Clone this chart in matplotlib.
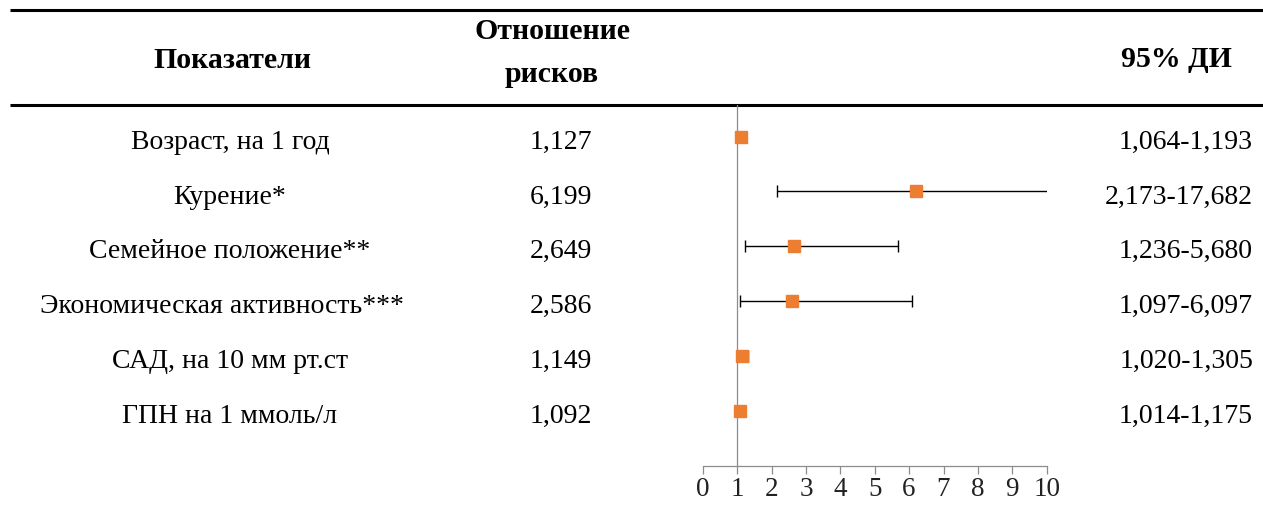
import numpy as np
import matplotlib.pyplot as plt

plt.rcParams['font.family'] = ['Liberation Serif', 'DejaVu Serif']

# Данные модели пропорциональных рисков
pokazateli = [
    "Возраст, на 1 год",
    "Курение*",
    "Семейное положение**",
    "Экономическая активность***",
    "САД, на 10 мм рт.ст",
    "ГПН на 1 ммоль/л",
]
otn_riskov = [1.127, 6.199, 2.649, 2.586, 1.149, 1.092]
di_niz = [1.064, 2.173, 1.236, 1.097, 1.020, 1.014]
di_verh = [1.193, 17.682, 5.680, 6.097, 1.305, 1.175]
osi_x = list(range(0, 11))

def zap(v):
    return f"{v:.3f}".replace(".", ",")

W, H = 1263, 508
fig = plt.figure(figsize=(W / 100, H / 100), dpi=100)

# Слой таблицы в пиксельных координатах
ax = fig.add_axes([0, 0, 1, 1])
ax.set_xlim(0, W)
ax.set_ylim(H, 0)
ax.axis("off")

FS = 20      # текст строк
FS_H = 21.5  # заголовки

ax.hlines([10, 105], 10, W, color="black", lw=2.2)
ax.text(232, 68, "Показатели", ha="center", va="baseline", fontsize=FS_H, fontweight="bold")
ax.text(552, 39, "Отношение", ha="center", va="baseline", fontsize=FS_H, fontweight="bold")
ax.text(552, 82, "рисков", ha="center", va="baseline", fontsize=FS_H, fontweight="bold")
ax.text(1232, 67, "95% ДИ", ha="right", va="baseline", fontsize=FS_H, fontweight="bold")

Y0, SHAG = 136.7, 54.8
ys = np.array([Y0 + i * SHAG for i in range(len(pokazateli))])

for i, (nazv, hr, lo, hi) in enumerate(zip(pokazateli, otn_riskov, di_niz, di_verh)):
    yb = ys[i] + 12
    if len(nazv) > 22:
        ax.text(40, yb, nazv, ha="left", va="baseline", fontsize=FS)
    else:
        ax.text(230, yb, nazv, ha="center", va="baseline", fontsize=FS)
    ax.text(530, yb, zap(hr), ha="left", va="baseline", fontsize=FS)
    ax.text(1253, yb, f"{zap(lo)}-{zap(hi)}", ha="right", va="baseline", fontsize=FS)

# Лесовой график
x0, x1 = 702.7, 1046.7
y_top, y_os = 105, 465.7
fa = fig.add_axes([x0 / W, 1 - y_os / H, (x1 - x0) / W, (y_os - y_top) / H])
fa.set_xlim(0, 10)
fa.set_ylim(y_os, y_top)
fa.patch.set_alpha(0)

hr_arr = np.array(otn_riskov)
xerr = [hr_arr - np.array(di_niz), np.array(di_verh) - hr_arr]
fa.axvline(1, color="#8c8c8c", lw=0.9, zorder=1)
fa.errorbar(hr_arr, ys, xerr=xerr, fmt="none", ecolor="black", elinewidth=1.0,
            capsize=4, capthick=1.0, zorder=2)
fa.plot(hr_arr, ys, "s", color="#ED7D31", mec="#ED7D31", ms=9, zorder=3)

for s in ["top", "left", "right"]:
    fa.spines[s].set_visible(False)
fa.spines["bottom"].set_color("#8c8c8c")
fa.spines["bottom"].set_linewidth(0.9)
fa.set_yticks([])
fa.set_xticks(osi_x)
fa.tick_params(axis="x", direction="out", length=6, width=0.9, color="#8c8c8c",
               labelsize=19.5, labelcolor="#222222", pad=2)

fig.savefig("out.png", dpi=100)
